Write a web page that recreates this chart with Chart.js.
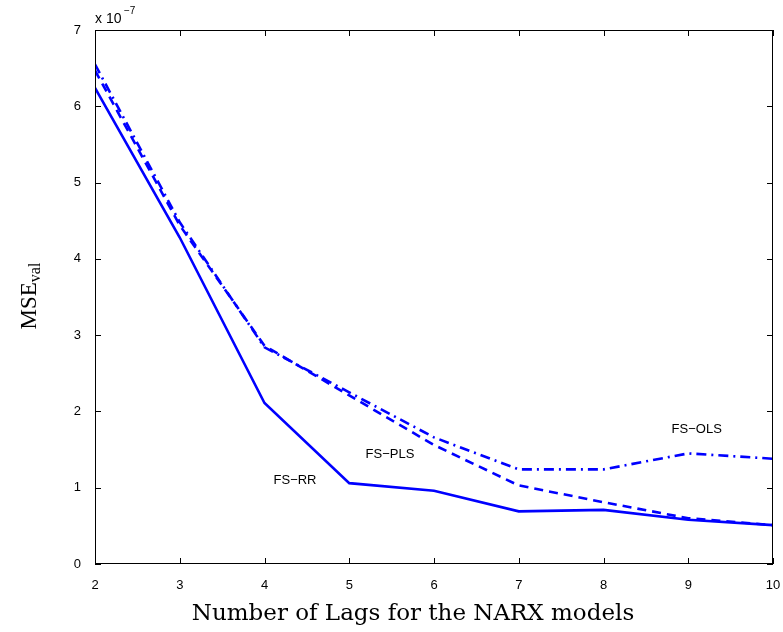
<!DOCTYPE html>
<html>
<head>
<meta charset="utf-8">
<script src="https://cdn.jsdelivr.net/npm/chart.js@4"></script>
<style>
html, body { margin: 0; padding: 0; background: #fff; }
#wrap { width: 783px; height: 632px; }
</style>
</head>
<body>
<div id="wrap"><canvas id="mseChart" width="783" height="632"></canvas></div>
<script>
// Number of lags
const lags = [2, 3, 4, 5, 6, 7, 8, 9, 10];
// MSE values (x 1e-7)
const fsRR  = [6.24, 4.28, 2.11, 1.06, 0.96, 0.69, 0.71, 0.58, 0.51];
const fsPLS = [6.47, 4.44, 2.86, 2.21, 1.56, 1.03, 0.81, 0.60, 0.51];
const fsOLS = [6.55, 4.48, 2.84, 2.25, 1.66, 1.24, 1.24, 1.45, 1.38];
const yTicks = [0, 1, 2, 3, 4, 5, 6, 7];
const seriesLabels = [
    { text: 'FS\u2212RR',  x: 4.36, y: 1.10 },
    { text: 'FS\u2212PLS', x: 5.48, y: 1.43 },
    { text: 'FS\u2212OLS', x: 9.10, y: 1.76 }
];

function toPoints(arr)
{
    return arr.map((v, i) => ({ x: lags[i], y: v }));
}

//Frame, inward ticks and text
const matlabFrame = {
    id: 'matlabFrame',
    afterDraw(chart) {
        const ctx = chart.ctx;
        const a = chart.chartArea;
        const xs = chart.scales.x;
        const ys = chart.scales.y;
        ctx.save();
        ctx.strokeStyle = '#000';
        ctx.lineWidth = 1;
        ctx.strokeRect(a.left + 0.5, a.top + 0.5, a.right - a.left - 1, a.bottom - a.top - 1);
        ctx.beginPath();
        lags.forEach(v => {
            const px = Math.round(xs.getPixelForValue(v)) + 0.5;
            ctx.moveTo(px, a.bottom); ctx.lineTo(px, a.bottom - 6);
            ctx.moveTo(px, a.top); ctx.lineTo(px, a.top + 6);
        });
        yTicks.forEach(v => {
            const py = Math.round(ys.getPixelForValue(v)) + 0.5;
            ctx.moveTo(a.left, py); ctx.lineTo(a.left + 6, py);
            ctx.moveTo(a.right, py); ctx.lineTo(a.right - 6, py);
        });
        ctx.stroke();

        // series labels
        ctx.fillStyle = '#000';
        ctx.font = '13px "Liberation Sans", Arial, sans-serif';
        ctx.textAlign = 'center';
        ctx.textBaseline = 'middle';
        seriesLabels.forEach(l => {
            ctx.fillText(l.text, xs.getPixelForValue(l.x), ys.getPixelForValue(l.y));
        });

        // exponent
        ctx.textAlign = 'left';
        ctx.textBaseline = 'alphabetic';
        ctx.font = '14px "Liberation Sans", Arial, sans-serif';
        ctx.fillText('x 10', a.left, a.top - 7);
        ctx.font = '10px "Liberation Sans", Arial, sans-serif';
        ctx.fillText('\u22127', a.left + 29, a.top - 16);

        // x title
        ctx.font = '23px "DejaVu Serif", "Liberation Serif", serif';
        ctx.textAlign = 'center';
        ctx.fillText('Number of Lags for the NARX models', 413, 620);

        // y title
        ctx.translate(36, 296);
        ctx.rotate(-Math.PI / 2);
        ctx.font = '23px "Liberation Serif", "DejaVu Serif", serif';
        const w1 = ctx.measureText('MSE').width;
        ctx.font = '16px "Liberation Serif", "DejaVu Serif", serif';
        const w2 = ctx.measureText('val').width;
        const start = -(w1 + w2) / 2;
        ctx.textAlign = 'left';
        ctx.font = '23px "Liberation Serif", "DejaVu Serif", serif';
        ctx.fillText('MSE', start, 0);
        ctx.font = '16px "Liberation Serif", "DejaVu Serif", serif';
        ctx.fillText('val', start + w1, 4);
        ctx.restore();
    }
};

const ctx = document.getElementById('mseChart').getContext('2d');
new Chart(ctx, {
    type: 'line',
    data: {
        datasets: [
            { label: 'FS-RR',  data: toPoints(fsRR),  borderColor: '#0000ff', borderWidth: 2.6, pointRadius: 0, borderDash: [] },
            { label: 'FS-PLS', data: toPoints(fsPLS), borderColor: '#0000ff', borderWidth: 2.6, pointRadius: 0, borderDash: [9, 6] },
            { label: 'FS-OLS', data: toPoints(fsOLS), borderColor: '#0000ff', borderWidth: 2.6, pointRadius: 0, borderDash: [10, 5, 2, 5] }
        ]
    },
    options: {
        responsive: false,
        animation: false,
        layout: { padding: { top: 30, right: 10, bottom: 0, left: 0 } },
        plugins: { legend: { display: false }, tooltip: { enabled: false } },
        scales: {
            x: {
                type: 'linear', min: 2, max: 10,
                grid: { display: false },
                border: { display: false },
                ticks: {
                    stepSize: 1, color: '#000', padding: 6,
                    font: { family: '"Liberation Sans", Arial, sans-serif', size: 13 }
                },
                afterFit(scale) {
                    scale.height = 68;
                    scale.paddingLeft = 0;
                    scale.paddingRight = 0;
                }
            },
            y: {
                min: 0, max: 7,
                grid: { display: false },
                border: { display: false },
                ticks: {
                    stepSize: 1, color: '#000', padding: 6,
                    font: { family: '"Liberation Sans", Arial, sans-serif', size: 13 }
                },
                afterFit(scale) { scale.width = 95; }
            }
        }
    },
    plugins: [matlabFrame]
});
</script>
</body>
</html>
